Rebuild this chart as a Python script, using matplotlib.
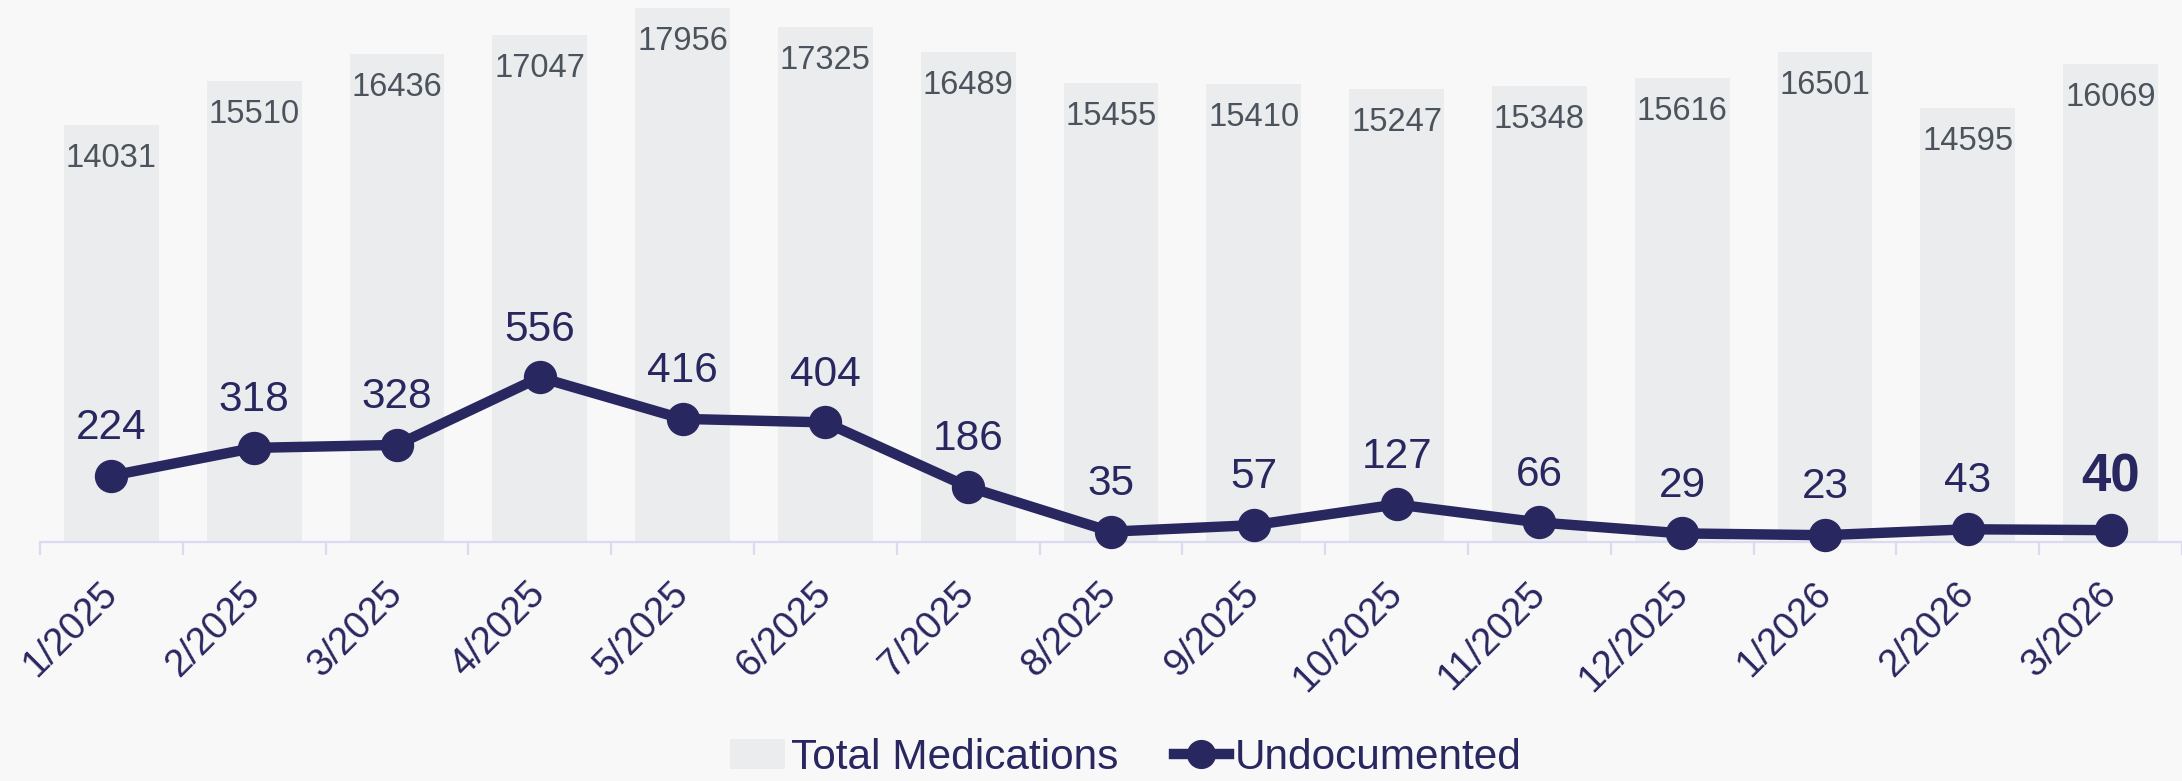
import matplotlib

matplotlib.use("Agg")
import matplotlib.pyplot as plt
import matplotlib.transforms as mtransforms
from matplotlib.lines import Line2D
from matplotlib.patches import Patch

months = ["1/2025", "2/2025", "3/2025", "4/2025", "5/2025", "6/2025", "7/2025",
          "8/2025", "9/2025", "10/2025", "11/2025", "12/2025", "1/2026",
          "2/2026", "3/2026"]
total_meds = [14031, 15510, 16436, 17047, 17956, 17325, 16489, 15455, 15410,
              15247, 15348, 15616, 16501, 14595, 16069]
undocumented = [224, 318, 328, 556, 416, 404, 186, 35, 57, 127, 66, 29, 23, 43, 40]

NAVY = "#29275f"
BAR = "#ebecee"
BG = "#f8f8f8"
AXIS = "#dcdaf0"
BAR_TXT = "#4b535c"

plt.rcParams["font.family"] = ["Liberation Sans", "DejaVu Sans"]

fig = plt.figure(figsize=(21.82, 7.81), dpi=100, facecolor=BG)
ax = fig.add_axes([40 / 2182, 1 - 542 / 781, 1 - 40 / 2182, 542 / 781])
ax.set_facecolor(BG)
x = list(range(len(months)))

bars = ax.bar(x, total_meds, width=0.665, color=BAR, zorder=1)
ax.set_ylim(0, 18237)
ax.set_xlim(-0.5, len(months) - 0.5)
for xi, v in zip(x, total_meds):
    ax.annotate(str(v), (xi, v), xytext=(0, -13), textcoords="offset points",
                ha="center", va="top", fontsize=23.5, color=BAR_TXT)

# undocumented counts on their own scale
ax2 = ax.twinx()
ax2.plot(x, undocumented, color=NAVY, lw=7.5, marker="o", ms=23,
         solid_joinstyle="round", zorder=3, clip_on=False)
ax2.set_ylim(0, 1831)
for i, (xi, v) in enumerate(zip(x, undocumented)):
    last = i == len(x) - 1
    ax2.annotate(str(v), (xi, v), xytext=(0, 20), textcoords="offset points",
                 ha="center", va="bottom", color=NAVY,
                 fontsize=38 if last else 30.5,
                 fontweight="bold" if last else "normal")

for a in (ax, ax2):
    for s in ("top", "left", "right"):
        a.spines[s].set_visible(False)
    a.set_yticks([])
ax2.spines["bottom"].set_visible(False)
ax.spines["bottom"].set_color(AXIS)
ax.spines["bottom"].set_linewidth(1.6)

ax.set_xticks(x)
ax.set_xticklabels(months, rotation=45, ha="right", va="top",
                   fontsize=27.5, color=NAVY)
ax.tick_params(axis="x", which="major", length=0, pad=24)
shift = mtransforms.ScaledTranslation(13 / 100, 0, fig.dpi_scale_trans)
for lbl in ax.get_xticklabels():
    lbl.set_transform(lbl.get_transform() + shift)
ax.set_xticks([i - 0.5 for i in range(len(months) + 1)], minor=True)
ax.tick_params(axis="x", which="minor", length=9, width=1.6, color=AXIS)

handles = [
    Patch(facecolor=BAR, edgecolor="none"),
    Line2D([], [], color=NAVY, lw=7.5, marker="o", ms=20),
]
fig.legend(handles, ["Total Medications", "Undocumented"], loc="center",
           bbox_to_anchor=(0.516, 0.03), ncol=2, frameon=False, fontsize=30.5,
           handlelength=1.3, handletextpad=0.15, columnspacing=1.3,
           labelcolor=NAVY)

fig.savefig("out.png", dpi=100, facecolor=BG)
